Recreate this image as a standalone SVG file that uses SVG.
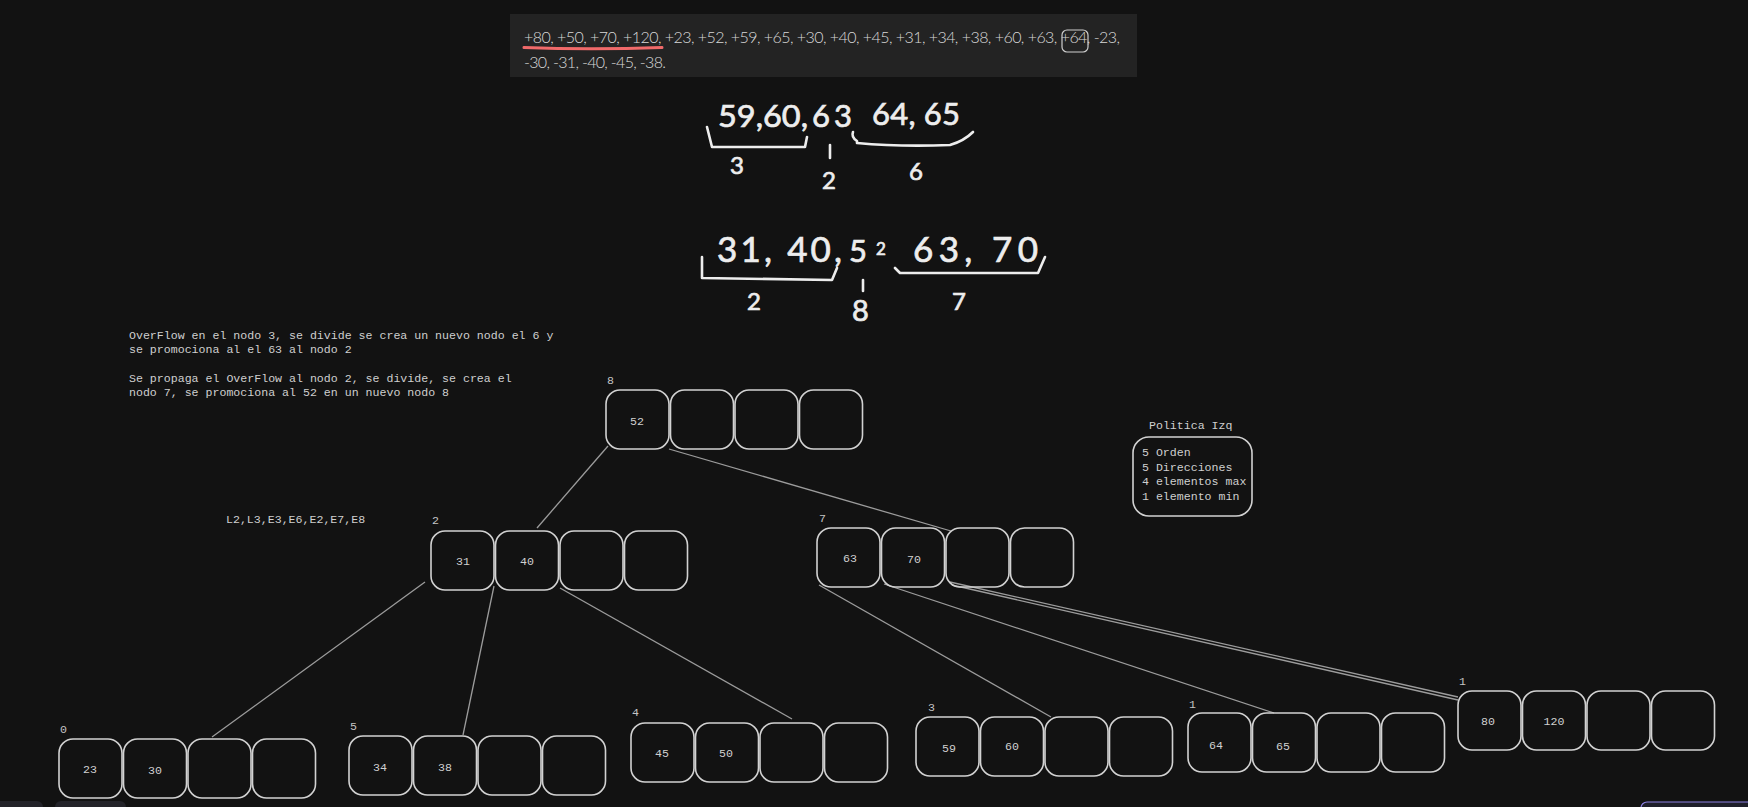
<svg xmlns="http://www.w3.org/2000/svg" width="1748" height="807" viewBox="0 0 1748 807">
  <style>
    .cell { fill: none; stroke: #d2d2d2; stroke-width: 1.6; }
    .val { font-family: "Liberation Mono", "DejaVu Sans Mono", monospace; font-size: 11.6px; fill: #d0d0d0; text-anchor: middle; dominant-baseline: central; }
    .lbl { font-family: "Liberation Mono", "DejaVu Sans Mono", monospace; font-size: 11.6px; fill: #c4c4c4; }
    .note { font-family: "Liberation Mono", "DejaVu Sans Mono", monospace; font-size: 11.6px; fill: #cfcfcf; }
    .seq { font-family: "Lato", "Open Sans", sans-serif; font-weight: 300; font-size: 16px; fill: #d8d8d8; }
    .hand { font-family: "Lato", "Open Sans", sans-serif; font-weight: 400; fill: #ededed; stroke: #ededed; stroke-width: 0.7; }
    .ink { fill: none; stroke: #ededed; stroke-width: 2.6; stroke-linecap: round; stroke-linejoin: round; }
    .edge { stroke: #9c9c9c; stroke-width: 1.3; fill: none; }
  </style>
  <defs>
    <!-- one B-tree page: four key slots -->
    <g id="page">
      <rect class="cell" x="0" y="0" width="63" height="59" rx="14"/>
      <rect class="cell" x="64.5" y="0" width="63" height="59" rx="14"/>
      <rect class="cell" x="129" y="0" width="63" height="59" rx="14"/>
      <rect class="cell" x="193.5" y="0" width="63" height="59" rx="14"/>
    </g>
  </defs>

  <rect width="1748" height="807" fill="#121212"/>

  <!-- insertion sequence -->
  <g id="sequence">
    <rect x="510" y="14" width="627" height="63" fill="#232323"/>
    <text class="seq" x="524" y="43" textLength="596" lengthAdjust="spacing">+80, +50, +70, +120, +23, +52, +59, +65, +30, +40, +45, +31, +34, +38, +60, +63, +64, -23,</text>
    <text class="seq" x="524" y="68" textLength="142" lengthAdjust="spacing">-30, -31, -40, -45, -38.</text>
    <path d="M524 47.5 Q590 50 662 47.5" fill="none" stroke="#f06a6a" stroke-width="3" stroke-linecap="round"/>
    <rect x="1062" y="30" width="26" height="22" rx="5" fill="none" stroke="#cfcfcf" stroke-width="1.2"/>
  </g>

  <!-- split of page 3 -->
  <g id="split-3">
    <text class="hand" x="718" y="127" font-size="31" textLength="90" lengthAdjust="spacingAndGlyphs">59,60,</text>
    <text class="hand" x="812" y="127" font-size="31" textLength="40" lengthAdjust="spacing">6 3</text>
    <text class="hand" x="872" y="125" font-size="31" textLength="88" lengthAdjust="spacing">64, 65</text>
    <path class="ink" d="M707 127 L712 147 L805 147 L807 137"/>
    <path class="ink" d="M853 132 Q851 137 857 141 L857 143 Q900 147 950 145 Q964 141 973 132"/>
    <path class="ink" d="M830 145 L830 158"/>
    <text class="hand" x="730" y="174" font-size="24">3</text>
    <text class="hand" x="822" y="189" font-size="24">2</text>
    <text class="hand" x="909" y="180" font-size="24">6</text>
  </g>

  <!-- split of page 2 -->
  <g id="split-2">
    <text class="hand" x="717" y="262" font-size="35" textLength="125" lengthAdjust="spacing">31, 40,</text>
    <text class="hand" x="849" y="262" font-size="31">5</text>
    <text class="hand" x="876" y="255" font-size="17">2</text>
    <text class="hand" x="913" y="262" font-size="35" textLength="125" lengthAdjust="spacing">63, 70</text>
    <path class="ink" d="M702 257 L702 278 L832 280 L837 268"/>
    <path class="ink" d="M895 268 L900 273 L1038 273 L1045 257"/>
    <path class="ink" d="M863 280 L863 291"/>
    <text class="hand" x="747" y="310" font-size="24">2</text>
    <text class="hand" x="852" y="321" font-size="29">8</text>
    <text class="hand" x="952" y="310" font-size="24">7</text>
  </g>

  <!-- explanation -->
  <g id="notes">
    <text class="note" x="129" y="339">OverFlow en el nodo 3, se divide se crea un nuevo nodo el 6 y</text>
    <text class="note" x="129" y="353">se promociona al el 63 al nodo 2</text>
    <text class="note" x="129" y="382">Se propaga el OverFlow al nodo 2, se divide, se crea el</text>
    <text class="note" x="129" y="396">nodo 7, se promociona al 52 en un nuevo nodo 8</text>
    <text class="note" x="226" y="523">L2,L3,E3,E6,E2,E7,E8</text>
  </g>

  <!-- tree policy -->
  <g id="policy">
    <text class="note" x="1149" y="429">Politica Izq</text>
    <rect x="1133" y="437" width="119" height="79" rx="16" fill="none" stroke="#d2d2d2" stroke-width="1.6"/>
    <text class="note" x="1142" y="456">5 Orden</text>
    <text class="note" x="1142" y="470.5">5 Direcciones</text>
    <text class="note" x="1142" y="485">4 elementos max</text>
    <text class="note" x="1142" y="499.5">1 elemento min</text>
  </g>

  <!-- child pointers -->
  <g id="connectors">
    <line class="edge" x1="608" y1="446" x2="537" y2="528"/>
    <line class="edge" x1="669" y1="449" x2="951" y2="531"/>
    <line class="edge" x1="425" y1="582" x2="212" y2="737"/>
    <line class="edge" x1="494" y1="586" x2="463" y2="735"/>
    <line class="edge" x1="560" y1="588" x2="792" y2="719"/>
    <line class="edge" x1="819" y1="585" x2="1051" y2="717"/>
    <line class="edge" x1="884" y1="584" x2="1274" y2="713"/>
    <line class="edge" x1="950" y1="582" x2="1458" y2="697"/>
    <line class="edge" x1="952" y1="585" x2="1458" y2="700"/>
  </g>

  <g id="node-8">
    <text class="lbl" x="607" y="384">8</text>
    <use href="#page" x="606" y="390"/>
    <text class="val" x="637" y="421">52</text>
  </g>

  <g id="node-2">
    <text class="lbl" x="432" y="524">2</text>
    <use href="#page" x="431" y="531"/>
    <text class="val" x="463" y="561">31</text>
    <text class="val" x="527" y="561">40</text>
  </g>

  <g id="node-7">
    <text class="lbl" x="819" y="522">7</text>
    <use href="#page" x="817" y="528"/>
    <text class="val" x="850" y="558">63</text>
    <text class="val" x="914" y="559">70</text>
  </g>

  <g id="node-0">
    <text class="lbl" x="60" y="733">0</text>
    <use href="#page" x="59" y="739"/>
    <text class="val" x="90" y="769">23</text>
    <text class="val" x="155" y="770">30</text>
  </g>

  <g id="node-5">
    <text class="lbl" x="350" y="730">5</text>
    <use href="#page" x="349" y="736"/>
    <text class="val" x="380" y="767">34</text>
    <text class="val" x="445" y="767">38</text>
  </g>

  <g id="node-4">
    <text class="lbl" x="632" y="716">4</text>
    <use href="#page" x="631" y="723"/>
    <text class="val" x="662" y="753">45</text>
    <text class="val" x="726" y="753">50</text>
  </g>

  <g id="node-3">
    <text class="lbl" x="928" y="711">3</text>
    <use href="#page" x="916" y="717"/>
    <text class="val" x="949" y="748">59</text>
    <text class="val" x="1012" y="746">60</text>
  </g>

  <g id="node-1a">
    <text class="lbl" x="1189" y="708">1</text>
    <use href="#page" x="1188" y="713"/>
    <text class="val" x="1216" y="745">64</text>
    <text class="val" x="1283" y="746">65</text>
  </g>

  <g id="node-1b">
    <text class="lbl" x="1459" y="685">1</text>
    <use href="#page" x="1458" y="691"/>
    <text class="val" x="1488" y="721">80</text>
    <text class="val" x="1554" y="721">120</text>
  </g>

  <!-- toolbar edges along the bottom -->
  <rect x="-10" y="801" width="53" height="20" rx="6" fill="#232329"/>
  <rect x="55" y="801" width="71" height="20" rx="6" fill="#232329"/>
  <rect x="1641" y="802" width="120" height="20" rx="6" fill="#1e1e2a" stroke="#8a7fe0" stroke-width="1.2"/>
</svg>
